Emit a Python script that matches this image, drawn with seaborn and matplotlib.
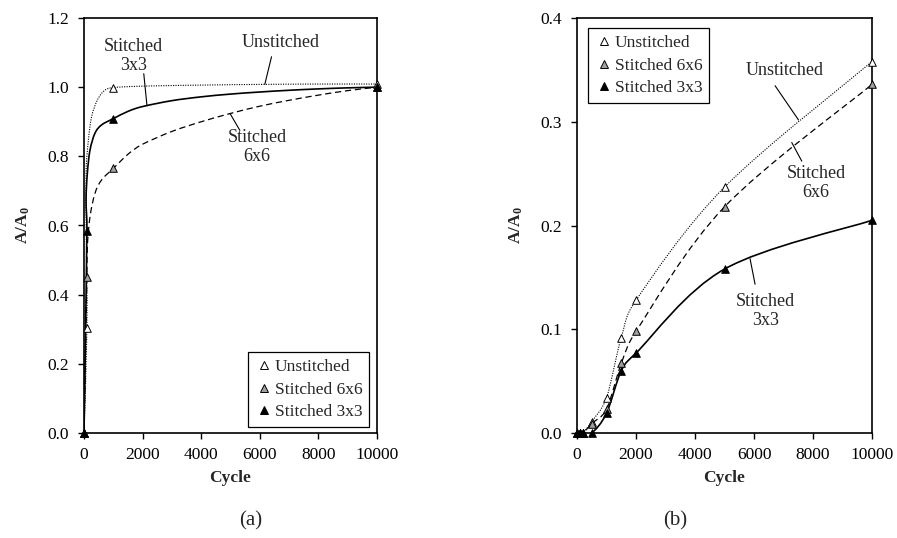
import numpy as np
import matplotlib
matplotlib.use("Agg")
import matplotlib.pyplot as plt
from matplotlib.path import Path
from matplotlib.patches import PathPatch
from matplotlib.lines import Line2D
import seaborn as sns
import pandas as pd

# ---------------- data ----------------
series_names = ["Unstitched", "Stitched 6x6", "Stitched 3x3"]

# panel (a) measured points (markers)
cycles_a = [0, 100, 1000, 10000]
unstitched_a = [0.0, 0.305, 0.998, 1.009]
stitched6_a = [0.0, 0.452, 0.765, 1.000]
stitched3_a = [0.0, 0.583, 0.909, 1.000]

# panel (a) fitted curves
curve_unst_x = [0, 100, 80, 70, 150, 260, 430, 600, 770, 1000, 2000, 4000, 6000, 8000, 10000]
curve_unst_y = [0.0, 0.305, 0.55, 0.75, 0.847, 0.915, 0.958, 0.982, 0.994, 0.999, 1.003, 1.006, 1.008, 1.009, 1.009]
curve_s6_x = [0, 100, 114, 205, 375, 603, 1000, 1500, 2000, 3000, 4000, 5000, 6000, 7000, 8000, 9000, 10000]
curve_s6_y = [0.0, 0.452, 0.539, 0.625, 0.693, 0.732, 0.765, 0.806, 0.835, 0.872, 0.900, 0.924, 0.945, 0.962, 0.977, 0.990, 1.000]
curve_s3_x = [0, 100, 70, 114, 205, 375, 603, 1000, 1500, 2000, 3000, 4000, 5000, 6000, 7000, 8000, 9000, 10000]
curve_s3_y = [0.0, 0.583, 0.674, 0.751, 0.818, 0.867, 0.891, 0.909, 0.930, 0.944, 0.961, 0.972, 0.980, 0.986, 0.991, 0.995, 0.998, 1.000]

# panel (b)
cycles_b = [0, 100, 200, 500, 1000, 1500, 2000, 5000, 10000]
unstitched_b = [0.0, 0.0, 0.0, 0.011, 0.034, 0.092, 0.128, 0.237, 0.358]
stitched6_b = [0.0, 0.0, 0.0, 0.009, 0.023, 0.067, 0.098, 0.218, 0.336]
stitched3_b = [0.0, 0.0, 0.0, 0.0, 0.019, 0.060, 0.077, 0.158, 0.205]

x_ticks = [0, 2000, 4000, 6000, 8000, 10000]
y_ticks_a = [0.0, 0.2, 0.4, 0.6, 0.8, 1.0, 1.2]
y_ticks_b = [0.0, 0.1, 0.2, 0.3, 0.4]

# ---------------- style ----------------
sns.set_style("white")
plt.rcParams["font.family"] = ["Liberation Serif", "DejaVu Serif"]
plt.rcParams["mathtext.fontset"] = "custom"
plt.rcParams["mathtext.rm"] = "Liberation Serif"
plt.rcParams["mathtext.bf"] = "Liberation Serif:bold"
plt.rcParams["mathtext.it"] = "Liberation Serif:italic"

FS = 12.5
face = {"Unstitched": "white", "Stitched 6x6": "#a0a0a0", "Stitched 3x3": "black"}
lstyle = {"Unstitched": (0, (1, 1.2)), "Stitched 6x6": (0, (5, 3)), "Stitched 3x3": "-"}
lwidth = {"Unstitched": 0.8, "Stitched 6x6": 0.9, "Stitched 3x3": 1.2}

W, H = 897.0, 538.0
AX_W_PX = 293.0
AX_H_PX = 415.0


def smooth_patch(x, y, ymax, **kw):
    """Excel-style smoothed line: Bezier through the points, arms capped,
    computed in screen proportions."""
    sx = AX_W_PX / 10000.0
    sy = AX_H_PX / ymax
    pts = np.column_stack([np.asarray(x, float) * sx, np.asarray(y, float) * sy])
    n = len(pts)
    verts = [pts[0]]
    codes = [Path.MOVETO]
    for i in range(n - 1):
        p0 = pts[max(i - 1, 0)]
        p1 = pts[i]
        p2 = pts[i + 1]
        p3 = pts[min(i + 2, n - 1)]
        d12 = np.linalg.norm(p2 - p1)
        d02 = np.linalg.norm(p2 - p0)
        d13 = np.linalg.norm(p3 - p1)
        f1 = 1 / 6.0 if d02 == 0 else min(1 / 6.0, d12 / (2 * d02))
        f2 = 1 / 6.0 if d13 == 0 else min(1 / 6.0, d12 / (2 * d13))
        c1 = p1 + (p2 - p0) * f1
        c2 = p2 - (p3 - p1) * f2
        verts += [c1, c2, p2]
        codes += [Path.CURVE4] * 3
    verts = np.array(verts)
    verts[:, 0] /= sx
    verts[:, 1] /= sy
    return PathPatch(Path(verts, codes), fill=False, **kw)


def style_axes(ax, yticks, ymax):
    ax.set_xlim(0, 10000)
    ax.set_ylim(0, ymax)
    ax.set_xticks(x_ticks)
    ax.set_xticklabels([str(t) for t in x_ticks])
    ax.set_yticks(yticks)
    ax.set_yticklabels([f"{t:.1f}" for t in yticks])
    ax.tick_params(axis="both", which="both", direction="out", length=4,
                   width=1, colors="black", labelsize=FS,
                   top=False, right=False, bottom=True, left=True)
    ax.tick_params(axis="x", pad=6)
    ax.tick_params(axis="y", pad=7)
    for sp in ax.spines.values():
        sp.set_visible(True)
        sp.set_color("black")
        sp.set_linewidth(1.2)
    ax.set_xlabel("Cycle", fontsize=FS, fontweight="bold", labelpad=5)
    ax.set_ylabel(r"$\mathbf{A/A_0}$", fontsize=FS, labelpad=11)
    ax.grid(False)


def draw_markers(ax, xs, ys_list):
    for name, ys in zip(series_names, ys_list):
        df = pd.DataFrame({"Cycle": xs, "A": ys})
        sns.scatterplot(data=df, x="Cycle", y="A", ax=ax, marker="^", s=30,
                        color=face[name], edgecolor="black", linewidth=0.7,
                        zorder=3, clip_on=False, legend=False)


def legend_handles():
    return [Line2D([0], [0], marker="^", linestyle="none", markersize=5.5,
                   markerfacecolor=face[n], markeredgecolor="black",
                   markeredgewidth=0.7, label=n) for n in series_names]


fig = plt.figure(figsize=(8.97, 5.38), dpi=100)
bottom = (H - 433) / H
height = AX_H_PX / H
axA = fig.add_axes([84 / W, bottom, AX_W_PX / W, height])
axB = fig.add_axes([577 / W, bottom, (872 - 577) / W, height])

# panel (a)
curves_a = [(curve_unst_x, curve_unst_y), (curve_s6_x, curve_s6_y), (curve_s3_x, curve_s3_y)]
for name, (cx, cy) in zip(series_names, curves_a):
    axA.add_patch(smooth_patch(cx, cy, 1.2, edgecolor="black", lw=lwidth[name],
                               linestyle=lstyle[name], zorder=2))
draw_markers(axA, cycles_a, [unstitched_a, stitched6_a, stitched3_a])
style_axes(axA, y_ticks_a, 1.2)

# panel (b)
for name, ys in zip(series_names, [unstitched_b, stitched6_b, stitched3_b]):
    axB.add_patch(smooth_patch(cycles_b, ys, 0.4, edgecolor="black", lw=lwidth[name],
                               linestyle=lstyle[name], zorder=2))
draw_markers(axB, cycles_b, [unstitched_b, stitched6_b, stitched3_b])
style_axes(axB, y_ticks_b, 0.4)

leg_kw = dict(fontsize=FS, frameon=True, fancybox=False, edgecolor="black",
              framealpha=1, handlelength=1.0, handletextpad=0.15,
              labelspacing=0.35, borderpad=0.4, borderaxespad=0)
legA = axA.legend(handles=legend_handles(), loc="lower right",
                  bbox_to_anchor=(0.974, 0.015), **leg_kw)
legA.get_frame().set_linewidth(0.9)
legB = axB.legend(handles=legend_handles(), loc="upper left",
                  bbox_to_anchor=(0.037, 0.975), **leg_kw)
legB.get_frame().set_linewidth(0.9)

ann_fs = 13
# panel (a) annotations
axA.text(1700, 1.09, "Stitched\n3x3", ha="center", va="center", fontsize=ann_fs, linespacing=1.15)
axA.plot([2040, 2150], [1.039, 0.946], color="black", lw=0.8)
axA.text(6700, 1.13, "Unstitched", ha="center", va="center", fontsize=ann_fs)
axA.plot([6400, 6170], [1.088, 1.008], color="black", lw=0.8)
axA.text(5910, 0.826, "Stitched\n6x6", ha="center", va="center", fontsize=ann_fs, linespacing=1.15)
axA.plot([5320, 4983], [0.875, 0.924], color="black", lw=0.8)

# panel (b) annotations
axB.text(7030, 0.349, "Unstitched", ha="center", va="center", fontsize=ann_fs)
axB.plot([6715, 7510], [0.3347, 0.3017], color="black", lw=0.8)
axB.text(8110, 0.2407, "Stitched\n6x6", ha="center", va="center", fontsize=ann_fs, linespacing=1.15)
axB.plot([7620, 7280], [0.262, 0.280], color="black", lw=0.8)
axB.text(6400, 0.1177, "Stitched\n3x3", ha="center", va="center", fontsize=ann_fs, linespacing=1.15)
axB.plot([6036, 5866], [0.1434, 0.168], color="black", lw=0.8)

fig.text(251 / W, 1 - 521 / H, "(a)", ha="center", va="center", fontsize=15)
fig.text(675 / W, 1 - 521 / H, "(b)", ha="center", va="center", fontsize=15)

fig.savefig("out.png", dpi=100)
